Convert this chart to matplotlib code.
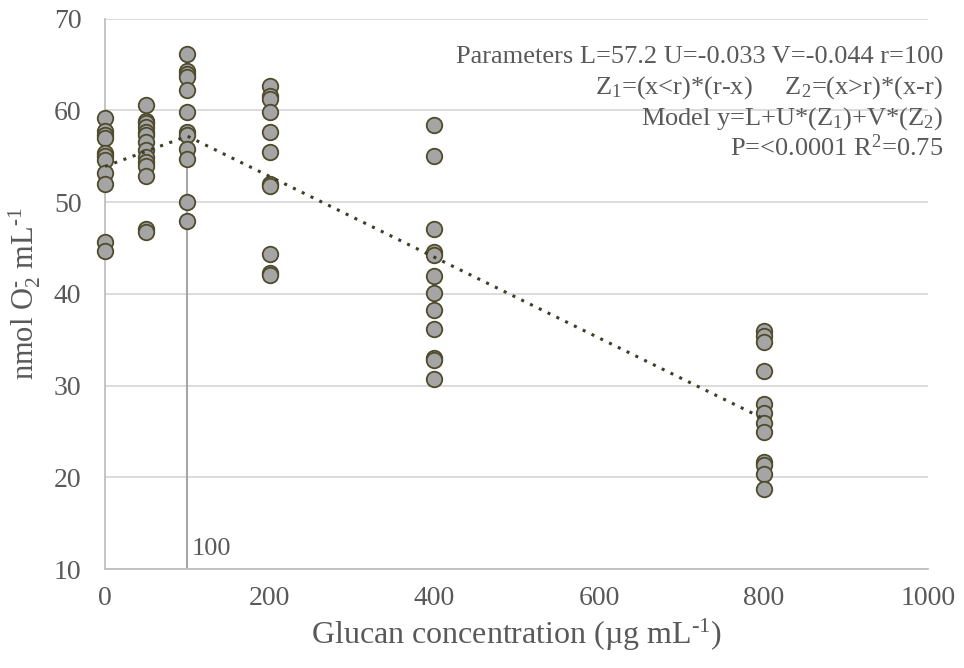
import matplotlib
matplotlib.use('Agg')
import matplotlib.pyplot as plt
import numpy as np

plt.rcParams['font.family'] = ['Liberation Serif', 'DejaVu Serif']
plt.rcParams['mathtext.fontset'] = 'custom'
plt.rcParams['mathtext.rm'] = 'Liberation Serif'
plt.rcParams['mathtext.it'] = 'Liberation Serif:italic'

# measured values per glucan concentration (ug/mL)
y_0 = [59.2, 57.8, 57.3, 57.0, 55.4, 55.0, 54.6, 53.2, 52.0, 45.7, 44.7]
y_50 = [60.6, 58.9, 58.6, 58.2, 57.6, 57.3, 56.6, 55.7, 54.9, 54.4, 53.9, 52.8, 47.1, 46.7]
y_100 = [66.1, 64.3, 64.0, 63.6, 62.2, 59.8, 57.6, 57.3, 55.8, 54.7, 50.0, 48.0]
y_200 = [62.7, 61.6, 61.3, 59.8, 57.6, 55.5, 52.0, 51.8, 44.4, 42.3, 42.1]
y_400 = [58.4, 55.0, 47.1, 44.6, 44.2, 42.0, 40.1, 38.3, 36.2, 33.0, 32.8, 30.7]
y_800 = [36.0, 35.4, 34.8, 31.6, 28.0, 27.0, 25.9, 25.0, 21.7, 21.3, 20.4, 18.7]
groups = {0: y_0, 50: y_50, 100: y_100, 200: y_200, 400: y_400, 800: y_800}

# broken-line model parameters
L, U, V, r = 57.2, -0.033, -0.044, 100
fit_x = [0, r, 800]

x_ticks = [0, 200, 400, 600, 800, 1000]
y_ticks = [10, 20, 30, 40, 50, 60, 70]

text_col = '#595959'
grid_col = '#d9d9d9'

fig = plt.figure(figsize=(9.64, 6.68), dpi=100)
ax = fig.add_axes([0.109, 0.148, 0.854, 0.824])

for xv, ys in groups.items():
    ax.scatter([xv] * len(ys), ys, s=125, facecolor='#a5a5a5',
               edgecolor='#4f4b2c', linewidth=1.3, zorder=3, clip_on=False)

fit_y = [L + U * ((x < r) * (r - x)) + V * ((x > r) * (x - r)) for x in fit_x]
ax.plot(fit_x, fit_y, linestyle=(0, (1, 2.2)), color='#3f3d25', lw=2.2, zorder=4)

# breakpoint marker
ax.plot([r, r], [10, L], color='#a6a6a6', lw=1.5, zorder=2)
ax.text(r + 5, 11.0, '100', fontsize=19, color=text_col, ha='left', va='bottom')

ax.set_xlim(0, 1000)
ax.set_ylim(10, 70)
ax.set_xticks(x_ticks)
ax.set_yticks(y_ticks)
ax.yaxis.grid(True, color=grid_col, lw=1.3)
ax.set_axisbelow(True)
for s in ['top', 'right']:
    ax.spines[s].set_visible(False)
for s in ['left', 'bottom']:
    ax.spines[s].set_color('#bfbfbf')
    ax.spines[s].set_linewidth(1.3)
ax.tick_params(length=0, labelsize=20, colors=text_col)
ax.tick_params(axis='y', pad=17)
ax.tick_params(axis='x', pad=12)

sup_m1 = r'$\mathregular{^{\text{-}1}}$'
ax.set_xlabel('Glucan concentration (µg mL' + sup_m1 + ')', fontsize=23,
              color=text_col, labelpad=4)
ax.set_ylabel(r'nmol O$\mathregular{_2^{\text{-}}}$ mL' + sup_m1, fontsize=22,
              color=text_col, labelpad=8)

lines = [
    'Parameters L=57.2 U=-0.033 V=-0.044 r=100',
    r'Z$\mathregular{_1}$=(x<r)*(r-x)     Z$\mathregular{_2}$=(x>r)*(x-r)',
    r'Model y=L+U*(Z$\mathregular{_1}$)+V*(Z$\mathregular{_2}$)',
    r'P=<0.0001 R$\mathregular{^2}$=0.75',
]
for i, t in enumerate(lines):
    fig.text(943 / 964, 1 - (63 + 31 * i) / 668, t, fontsize=19, color=text_col,
             ha='right', va='baseline')

fig.savefig('out.png', dpi=100)
